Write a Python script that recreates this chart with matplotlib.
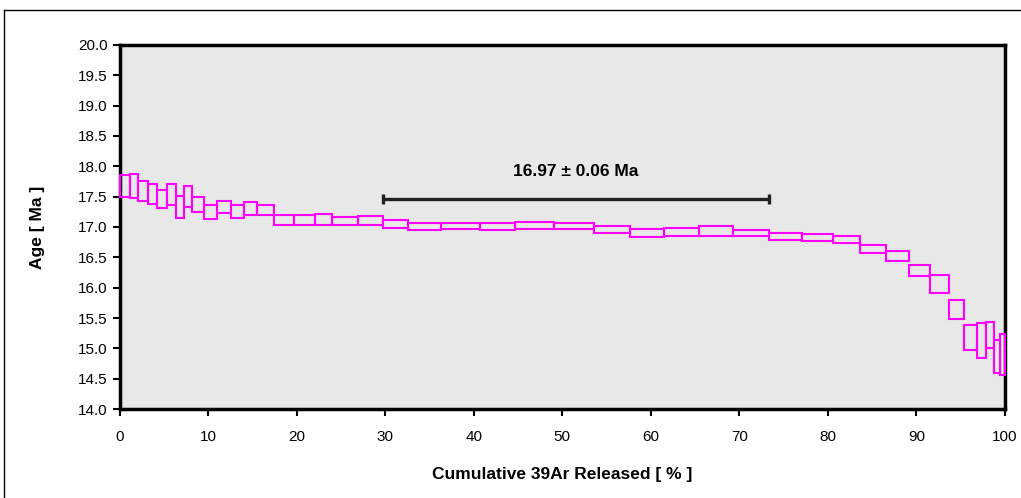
import matplotlib
matplotlib.use("Agg")
import matplotlib.pyplot as plt
from matplotlib.patches import Rectangle
from matplotlib.lines import Line2D

plt.rcParams['font.family'] = ['Liberation Sans', 'DejaVu Sans']

# Cumulative 39Ar released boundaries (%)
cum_edges = [0, 1.18, 2.09, 3.18, 4.23, 5.39, 6.34, 7.28, 8.21, 9.53, 10.96,
             12.54, 14.08, 15.54, 17.46, 19.68, 22.05, 24.05, 26.98, 29.80, 32.62,
             36.35, 40.67, 44.65, 49.05, 53.53, 57.70, 61.54, 65.40, 69.32, 73.30,
             77.10, 80.60, 83.68, 86.61, 89.14, 91.57, 93.65, 95.34, 96.84, 97.86,
             98.79, 99.40, 100.0]
# Age box upper / lower limits (Ma)
age_upper = [17.85, 17.88, 17.75, 17.71, 17.61, 17.71, 17.51, 17.68, 17.50, 17.36,
             17.43, 17.36, 17.42, 17.37, 17.20, 17.19, 17.21, 17.17, 17.18, 17.11,
             17.06, 17.07, 17.06, 17.09, 17.06, 17.01, 16.96, 16.98, 17.02, 16.95,
             16.90, 16.89, 16.85, 16.71, 16.60, 16.37, 16.21, 15.80, 15.39, 15.41,
             15.43, 15.13, 15.24]
age_lower = [17.49, 17.47, 17.43, 17.38, 17.31, 17.36, 17.15, 17.33, 17.25, 17.14,
             17.23, 17.15, 17.20, 17.20, 17.04, 17.04, 17.03, 17.04, 17.04, 16.98,
             16.95, 16.96, 16.95, 16.97, 16.96, 16.90, 16.84, 16.85, 16.85, 16.85,
             16.79, 16.77, 16.73, 16.57, 16.44, 16.19, 15.91, 15.49, 14.97, 14.84,
             15.00, 14.59, 14.56]

plateau_start = 29.8
plateau_end = 73.3
plateau_y = 17.46
plateau_label = "16.97 ± 0.06 Ma"

fig = plt.figure(figsize=(10.21, 4.98), dpi=100)
ax = fig.add_axes([119.5 / 1021, 1 - 409 / 498, (1005 - 119.5) / 1021, (409 - 45) / 498])
ax.set_facecolor('#E8E8E8')

for i in range(len(age_upper)):
    x0 = cum_edges[i]
    w = cum_edges[i + 1] - cum_edges[i]
    y0 = age_lower[i]
    h = age_upper[i] - age_lower[i]
    ax.add_patch(Rectangle((x0, y0), w, h, facecolor='none', edgecolor='#FF00FF',
                           linewidth=1.5, zorder=3, clip_on=False))

ax.errorbar([(plateau_start + plateau_end) / 2], [plateau_y],
            xerr=[[(plateau_end - plateau_start) / 2], [(plateau_end - plateau_start) / 2]],
            fmt='none', ecolor='#222222', elinewidth=2.4, capsize=3.5, capthick=2.4, zorder=4)
ax.text((plateau_start + plateau_end) / 2, 17.91, plateau_label, ha='center', va='center',
        fontsize=12.5, fontweight='bold', color='black')

ax.set_xlim(0, 100)
ax.set_ylim(14.0, 20.0)
ax.set_xticks(range(0, 101, 10))
ax.set_yticks([14.0 + 0.5 * k for k in range(13)])
ax.set_yticklabels([f"{14.0 + 0.5 * k:.1f}" for k in range(13)])
ax.tick_params(axis='both', direction='out', length=5, width=1.5, labelsize=11, colors='black')
ax.tick_params(axis='x', pad=10)
for sp in ax.spines.values():
    sp.set_linewidth(2.5)
    sp.set_color('black')

ax.set_xlabel("Cumulative 39Ar Released [ % ]", fontsize=12.5, fontweight='bold', labelpad=17)
ax.set_ylabel("Age [ Ma ]", fontsize=12.5, fontweight='bold', labelpad=24)

# outer frame (left and top edges visible)
fig.add_artist(Line2D([4 / 1021, 4 / 1021], [0, 1 - 10 / 498], transform=fig.transFigure,
                      color='black', linewidth=1.0))
fig.add_artist(Line2D([4 / 1021, 1], [1 - 10 / 498, 1 - 10 / 498], transform=fig.transFigure,
                      color='black', linewidth=1.0))

fig.savefig("out.png", dpi=100, facecolor='white')
